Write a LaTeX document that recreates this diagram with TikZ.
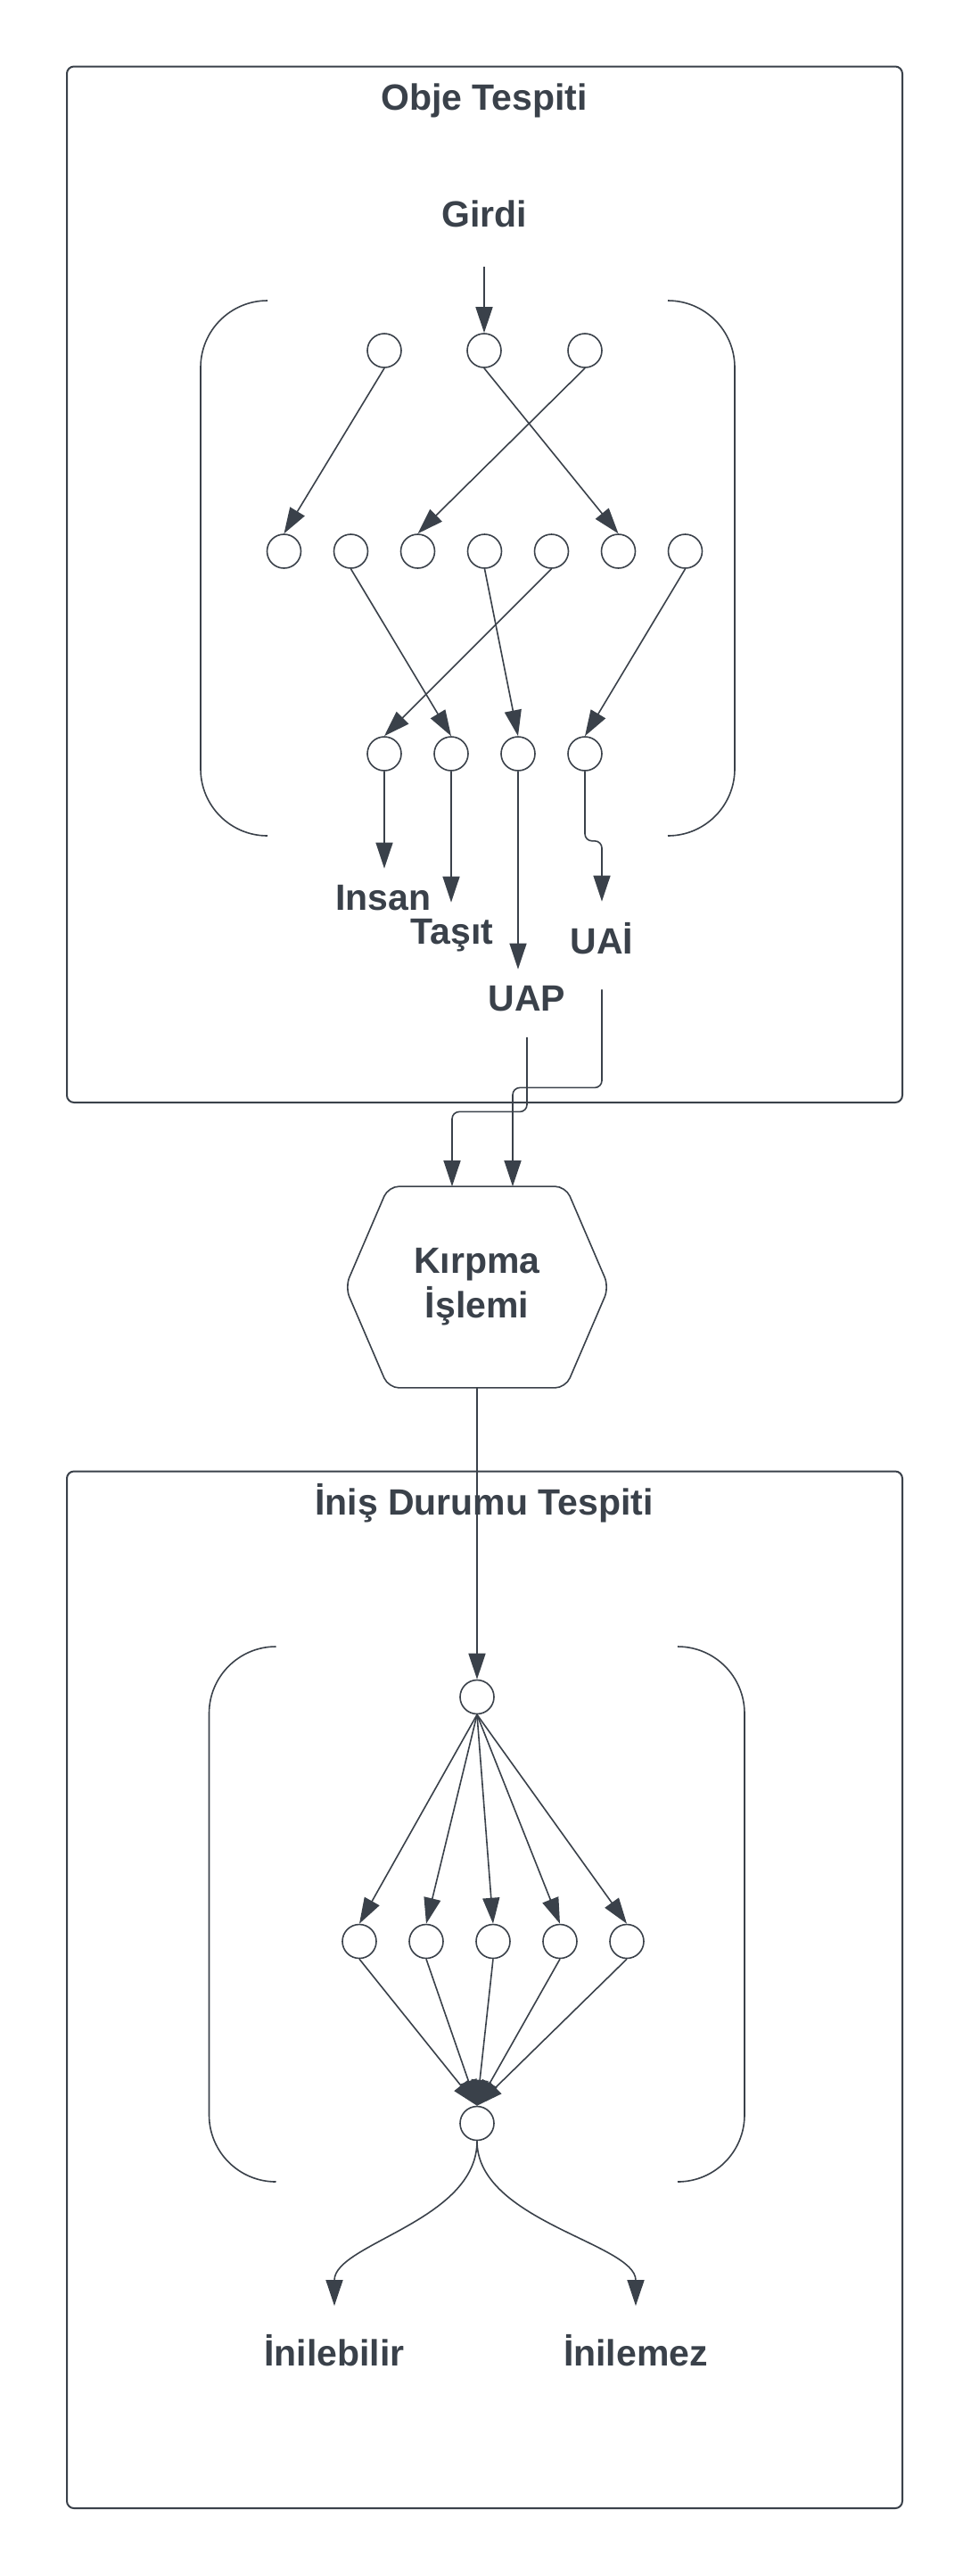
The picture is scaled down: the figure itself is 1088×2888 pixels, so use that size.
\documentclass[tikz,border=0pt]{standalone}
\usepackage{fontspec}
\setmainfont{Liberation Sans}
\usetikzlibrary{arrows.meta,calc}
\definecolor{ink}{HTML}{3A414A}
\tikzset{
  neuron/.style={circle,draw=ink,line width=0.8pt,minimum size=19pt,inner sep=0pt},
  lbl/.style={text=ink,font=\fontsize{20.5}{24}\selectfont\bfseries,inner sep=0pt,text height=14.7pt,text depth=0pt,minimum height=32pt},
  hexnode/.style={text=ink,font=\fontsize{20.5}{25}\selectfont\bfseries,align=center,inner sep=0pt,minimum width=147.5pt,minimum height=112.5pt},
  arr/.style={draw=ink,line width=0.8pt,-{Triangle[length=14.5pt,width=9.5pt]}},
  frame/.style={draw=ink,line width=1pt,rounded corners=4pt},
  paren/.style={draw=ink,line width=0.8pt,rounded corners=37.5pt}
}
\begin{document}
\begin{tikzpicture}[x=0.5pt,y=-0.5pt]
\useasboundingbox (0,0) rectangle (1088,2888);

\draw[frame] (75,74.5) rectangle (1012,1236);
\node[lbl] (objetitle) at (543,109) {Obje Tespiti};
\node[lbl] (girdi) at (543,240) {Girdi};

\draw[paren] (300,337) -- (225,337) -- (225,937) -- (300,937);
\draw[paren] (749,337) -- (824,337) -- (824,937) -- (749,937);

\foreach \i/\x in {1/431,2/543,3/656}
  \node[neuron] (a\i) at (\x,393) {};
\foreach \i in {1,...,7}
  \node[neuron] (b\i) at (243.5+75*\i,618) {};
\foreach \i in {1,...,4}
  \node[neuron] (c\i) at (356+75*\i,845) {};

\draw[arr, shorten <=13.5pt] (girdi.south) -- (a2.north);
\foreach \s/\t in {a1/b1,a2/b6,a3/b3,b2/c2,b4/c3,b5/c1,b7/c4}
  \draw[arr] (\s.south) -- (\t.north);

\node[lbl] (insan) at (430,1006) {Insan};
\node[lbl] (tasit) at (507,1044) {Taşıt};
\node[lbl] (uai) at (675,1055) {UAİ};
\node[lbl] (uap) at (591,1119) {UAP};

\draw[arr] (c1.south) -- (c1.south |- insan.north);
\draw[arr] (c2.south) -- (c2.south |- tasit.north);
\draw[arr] (c3.south) -- (c3.south |- uap.north);
\draw[arr, rounded corners=4pt, shorten >=6pt] (c4.south) -- ++(0,78) -| (uai.north);

\node[hexnode] (crop) at (535,1443) {Kırpma\\İşlemi};
\draw[ink, line width=0.8pt, rounded corners=6pt] (crop.west) -- ($(crop.north west)+(48.5,0)$) -- ($(crop.north east)+(-48.5,0)$) -- (crop.east) -- ($(crop.south east)+(-48.5,0)$) -- ($(crop.south west)+(48.5,0)$) -- cycle;

\draw[arr, rounded corners=4pt, shorten <=5.75pt] (uap.south) -- ++(0,95) -| ($(crop.north)+(-28,0)$);
\draw[arr, rounded corners=4pt, shorten <=11pt] (uai.south) -- ++(0,132) -| ($(crop.north)+(40,0)$);

\draw[frame] (75,1649.5) rectangle (1012,2812);
\node[lbl] (initle) at (543,1684) {İniş Durumu Tespiti};

\draw[paren] (309.5,1846) -- (234.5,1846) -- (234.5,2446) -- (309.5,2446);
\draw[paren] (760,1846) -- (835,1846) -- (835,2446) -- (760,2446);

\node[neuron] (d) at (535,1902.5) {};
\foreach \i in {1,...,5}
  \node[neuron] (e\i) at (328+75*\i,2176.5) {};
\node[neuron] (f) at (535,2380.5) {};

\draw[arr] (crop.south) -- (d.north);
\foreach \i in {1,...,5} {
  \draw[arr] (d.south) -- (e\i.north);
  \draw[arr] (e\i.south) -- (f.north);
}

\node[lbl] (inilebilir) at (375,2637.5) {İnilebilir};
\node[lbl] (inilemez) at (713,2637.5) {İnilemez};
\draw[arr, shorten >=10pt] (f.south) .. controls +(0,90) and +(0,-90) .. (inilebilir.north);
\draw[arr, shorten >=10pt] (f.south) .. controls +(0,90) and +(0,-90) .. (inilemez.north);
\end{tikzpicture}
\end{document}
